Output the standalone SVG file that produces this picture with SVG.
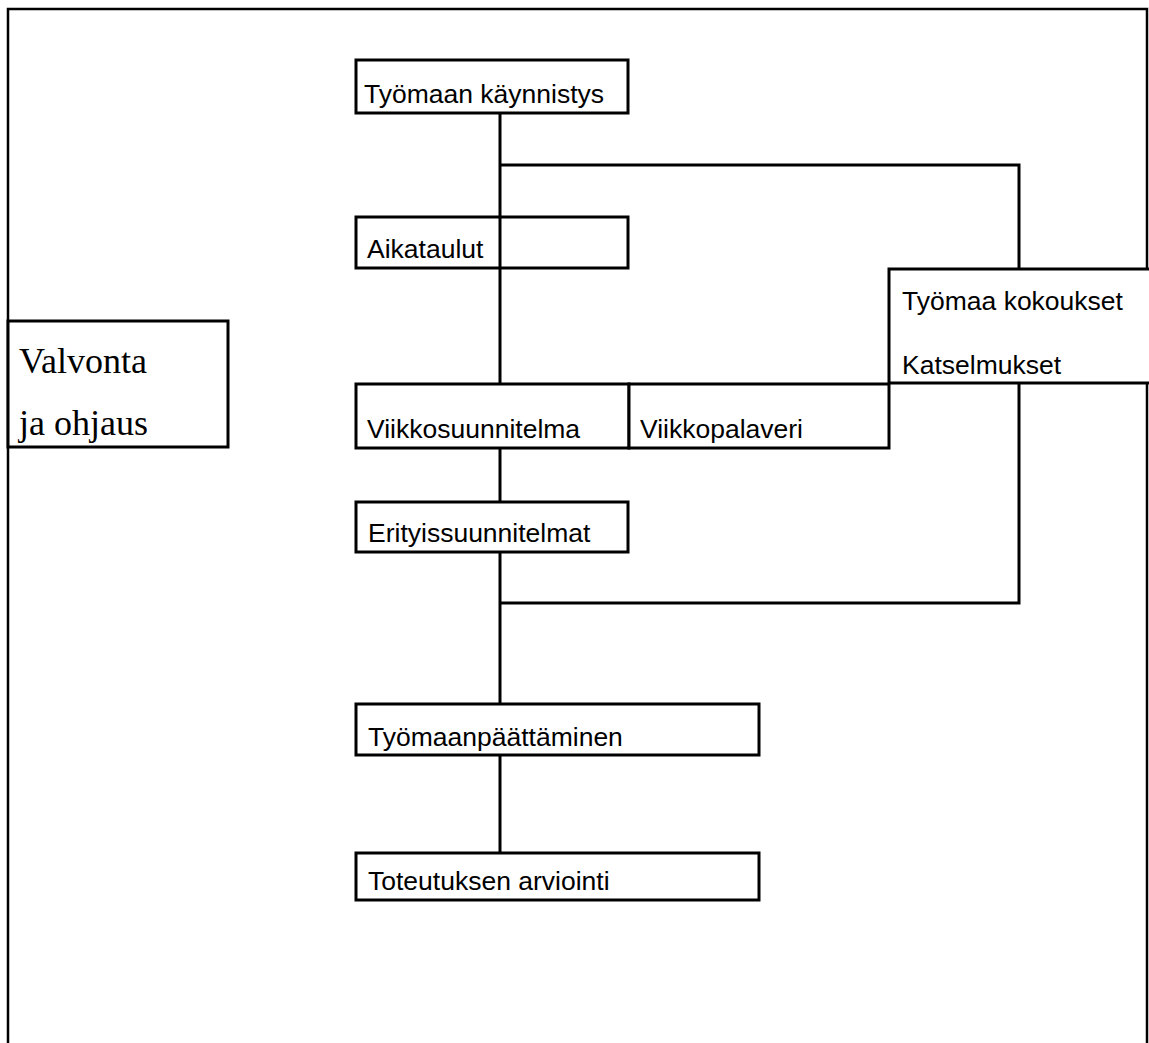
<svg xmlns="http://www.w3.org/2000/svg" width="1149" height="1043" viewBox="0 0 1149 1043">
<style>
.box{fill:#fff;stroke:#000;stroke-width:3}
.t{font-family:"Liberation Sans",Arial,sans-serif;font-size:26.5px;fill:#000}
.s{font-family:"Liberation Serif","Times New Roman",serif;font-size:36px;fill:#000}
.c{fill:none;stroke:#000;stroke-width:3}
</style>
<rect width="1149" height="1043" fill="#fff"/>
<g id="frame">
<path d="M8,1043 V9 H1147 V1043" fill="none" stroke="#000" stroke-width="2.5"/>
</g>
<g id="connectors">
<path class="c" d="M500,113 V384"/>
<path class="c" d="M500,165 H1019 V269"/>
<path class="c" d="M500,447 V502"/>
<path class="c" d="M500,552 V704"/>
<path class="c" d="M1019,383 V603 H500"/>
<path class="c" d="M500,755 V853"/>
</g>
<g id="valvonta">
<rect class="box" x="8" y="321" width="220" height="126"/>
<text class="s" x="19" y="373">Valvonta</text>
<text class="s" x="19" y="435">ja ohjaus</text>
</g>
<g id="tyomaan-kaynnistys">
<rect class="box" x="356" y="60" width="272" height="53"/>
<text class="t" x="364" y="103">Työmaan käynnistys</text>
</g>
<g id="aikataulut">
<rect class="box" x="356" y="217" width="272" height="51"/>
<line class="c" x1="500" y1="217" x2="500" y2="268"/>
<text class="t" x="367" y="258">Aikataulut</text>
</g>
<g id="tyomaa-kokoukset">
<rect class="box" x="889" y="269" width="262" height="114"/>
<text class="t" x="902" y="310">Työmaa kokoukset</text>
<text class="t" x="902" y="374">Katselmukset</text>
</g>
<g id="viikkosuunnitelma">
<rect class="box" x="356" y="384" width="273" height="64"/>
<text class="t" x="367" y="438">Viikkosuunnitelma</text>
</g>
<g id="viikkopalaveri">
<rect class="box" x="629" y="384" width="260" height="64"/>
<text class="t" x="640" y="438">Viikkopalaveri</text>
</g>
<g id="erityissuunnitelmat">
<rect class="box" x="356" y="502" width="272" height="50"/>
<text class="t" x="368" y="542">Erityissuunnitelmat</text>
</g>
<g id="tyomaanpaattaminen">
<rect class="box" x="356" y="704" width="403" height="51"/>
<text class="t" x="368" y="746">Työmaanpäättäminen</text>
</g>
<g id="toteutuksen-arviointi">
<rect class="box" x="356" y="853" width="403" height="47"/>
<text class="t" x="368" y="890">Toteutuksen arviointi</text>
</g>
</svg>
